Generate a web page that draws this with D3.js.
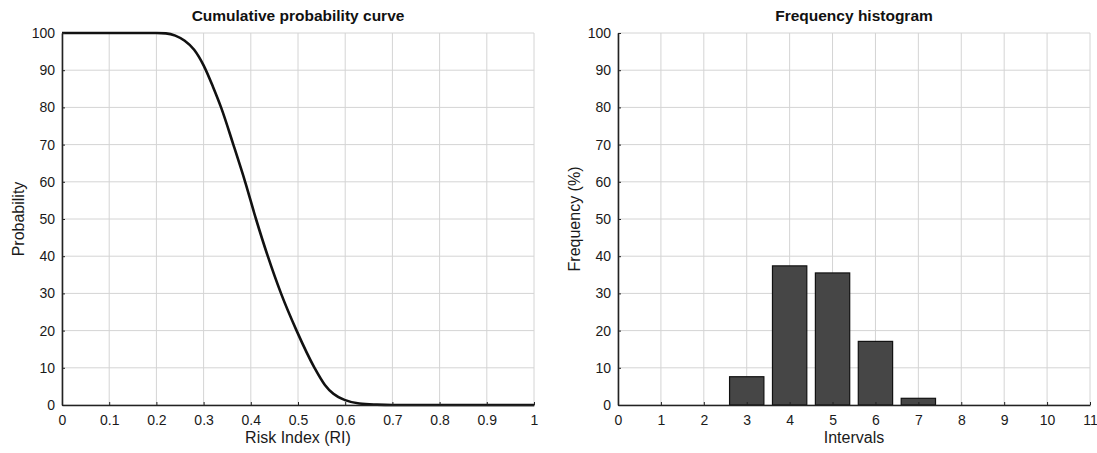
<!DOCTYPE html>
<html>
<head>
<meta charset="utf-8">
<script src="https://cdn.jsdelivr.net/npm/d3@7"></script>
<style>
    body { margin: 0; background: #fff; }
    svg { display: block; font-family: "Liberation Sans", Arial, sans-serif; }
    .grid line { stroke: #d4d4d4; stroke-width: 1; }
    .axis text { font-size: 14px; fill: #1a1a1a; }
    .axis path, .axis line { stroke: #222; }
</style>
</head>
<body>
<svg id="chart" width="1097" height="453"></svg>
<script>
// cumulative curve
const riskIndex = [0, 0.1, 0.2, 0.22, 0.24, 0.26, 0.28, 0.3, 0.32, 0.337, 0.363, 0.388, 0.411, 0.436, 0.464, 0.497, 0.535, 0.557, 0.575, 0.6, 0.63, 0.667, 0.7, 0.8, 0.9, 1];
const probability = [100, 100, 100, 99.9, 99.3, 97.9, 95.5, 91.3, 85.5, 80, 70, 60, 50, 40, 30, 20, 10, 5.4, 3.0, 1.3, 0.4, 0.1, 0, 0, 0, 0];

// histogram
const intervals = [1, 2, 3, 4, 5, 6, 7, 8, 9, 10];
const frequency = [0, 0, 7.6, 37.4, 35.5, 17.1, 1.8, 0, 0, 0];

const riTicks = [0, 0.1, 0.2, 0.3, 0.4, 0.5, 0.6, 0.7, 0.8, 0.9, 1];
const intervalTicks = d3.range(0, 12);
const yTicks = d3.range(0, 101, 10);

const svg = d3.select("#chart");
const plotTop = 33, plotBottom = 405;

function panel(x0, x1, xDomain, xTicks, title, xLabel, yLabel) {
    let x = d3.scaleLinear().domain(xDomain).range([x0, x1]);
    let y = d3.scaleLinear().domain([0, 100]).range([plotBottom, plotTop]);
    let g = svg.append("g");

    // grid
    let grid = g.append("g").attr("class", "grid");
    grid.selectAll(".gx").data(xTicks).enter().append("line")
        .attr("x1", d => x(d)).attr("x2", d => x(d))
        .attr("y1", plotTop).attr("y2", plotBottom);
    grid.selectAll(".gy").data(yTicks).enter().append("line")
        .attr("x1", x0).attr("x2", x1)
        .attr("y1", d => y(d)).attr("y2", d => y(d));

    let mid = (x0 + x1) / 2;
    g.append("text")
        .attr("x", mid).attr("y", 21)
        .attr("text-anchor", "middle")
        .style("font-size", "15.5px").style("font-weight", "bold").style("fill", "#111")
        .text(title);
    g.append("text")
        .attr("x", mid).attr("y", 443)
        .attr("text-anchor", "middle")
        .style("font-size", "16px").style("fill", "#1a1a1a")
        .text(xLabel);
    g.append("text")
        .attr("transform", "translate(" + (x0 - 38) + "," + ((plotTop + plotBottom) / 2) + ") rotate(-90)")
        .attr("text-anchor", "middle")
        .style("font-size", "16px").style("fill", "#1a1a1a")
        .text(yLabel);

    return { g: g, x: x, y: y };
}

function axes(p, xTicks, fmt) {
    p.g.append("g")
        .attr("class", "axis")
        .attr("transform", "translate(0," + plotBottom + ")")
        .call(d3.axisBottom(p.x).tickValues(xTicks).tickFormat(fmt).tickSize(-3).tickSizeOuter(0).tickPadding(10))
        .call(a => a.select(".domain").attr("stroke-width", 1.6));
    p.g.append("g")
        .attr("class", "axis")
        .attr("transform", "translate(" + p.x.range()[0] + ",0)")
        .call(d3.axisLeft(p.y).tickValues(yTicks).tickSize(-3).tickSizeOuter(0).tickPadding(7))
        .call(a => a.select(".domain").attr("stroke-width", 1.6));
}

// left: cumulative probability
const left = panel(62, 534, [0, 1], riTicks, "Cumulative probability curve", "Risk Index (RI)", "Probability");
const pts = riskIndex.map((r, i) => [r, probability[i]]);
left.g.append("path")
    .datum(pts)
    .attr("fill", "none")
    .attr("stroke", "#111")
    .attr("stroke-width", 2.6)
    .attr("d", d3.line().x(d => left.x(d[0])).y(d => left.y(d[1])).curve(d3.curveMonotoneX));
axes(left, riTicks, d => d === 0 || d === 1 ? d3.format("d")(d) : d3.format(".1f")(d));

// right: histogram
const right = panel(618, 1090, [0, 11], intervalTicks, "Frequency histogram", "Intervals", "Frequency (%)");
const bw = right.x(0.8) - right.x(0);
right.g.selectAll(".bar").data(intervals).enter().append("rect")
    .attr("class", "bar")
    .attr("x", (d) => right.x(d) - bw / 2)
    .attr("width", bw)
    .attr("y", (d, i) => right.y(frequency[i]))
    .attr("height", (d, i) => plotBottom - right.y(frequency[i]))
    .attr("fill", "#464646")
    .attr("stroke", "#111")
    .attr("stroke-width", 1.2);
axes(right, intervalTicks, d3.format("d"));
</script>
</body>
</html>
